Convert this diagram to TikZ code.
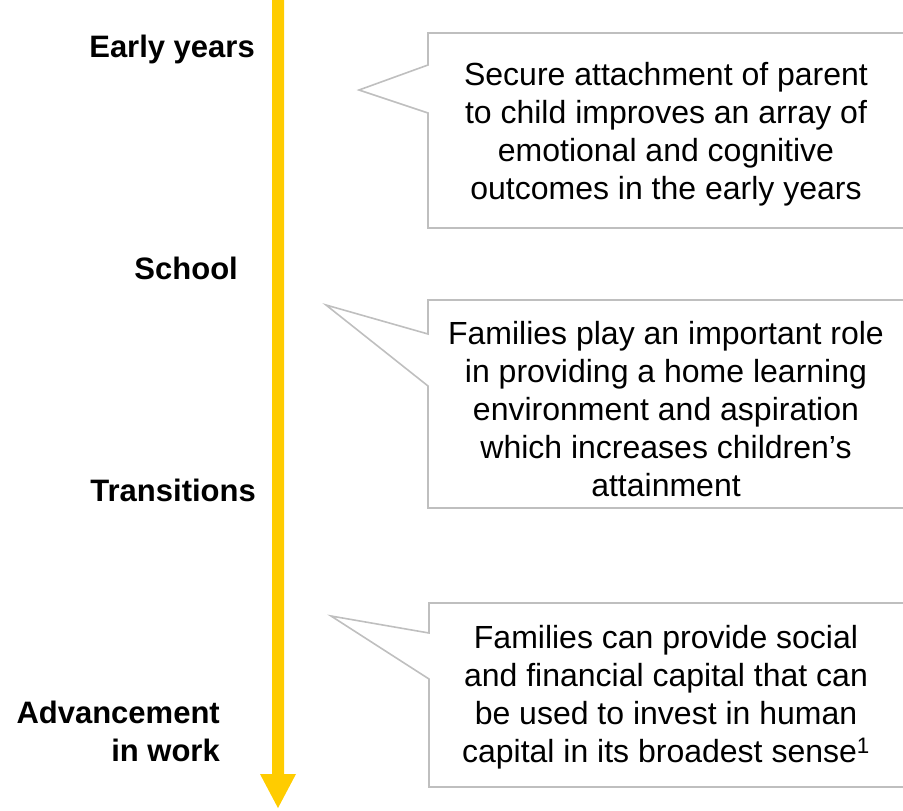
\documentclass[tikz,border=0pt]{standalone}
\usepackage{fontspec}
\setmainfont{Liberation Sans}
\definecolor{arrowyellow}{RGB}{255,204,0}
\definecolor{boxgray}{RGB}{191,191,191}
\begin{document}
\begin{tikzpicture}[x=1pt,y=-1pt,
  callout/.style={draw=boxgray,line width=1.6pt,line join=miter},
  bodytext/.style={align=center,inner sep=0pt,font=\fontsize{32}{38}\selectfont},
  stagelabel/.style={inner sep=0pt,font=\fontsize{31}{38}\selectfont\bfseries}]
\useasboundingbox (0,0) rectangle (903,811);
% timeline arrow
\fill[arrowyellow] (272,0) -- (284,0) -- (284,774) -- (296,774) -- (278,808) -- (260,774) -- (272,774) -- cycle;
% stage labels
\node[stagelabel,anchor=base east] (early) at (255,57) {Early years};
\node[stagelabel,anchor=base east] (school) at (238,279) {School};
\node[stagelabel,anchor=base east] (trans) at (256,501) {Transitions};
\node[stagelabel,anchor=base east] (adv) at (220,723) {Advancement};
\node[stagelabel,anchor=base east] (work) at (220,761) {in work};
% callout 1
\draw[callout] (905,33) -- (428,33) -- (428,65) -- (359,90) -- (428,113) -- (428,228) -- (905,228);
\node[bodytext] (t1) at (666,134) {Secure attachment of parent\\to child improves an array of\\emotional and cognitive\\outcomes in the early years};
% callout 2
\draw[callout] (905,300) -- (428,300) -- (428,334) -- (326,305) -- (428,386) -- (428,508) -- (905,508);
\node[bodytext] (t2) at (666,409) {Families play an important role\\in providing a home learning\\environment and aspiration\\which increases children’s\\attainment};
% callout 3
\draw[callout] (905,603) -- (429,603) -- (429,633) -- (331,616) -- (429,679) -- (429,787) -- (905,787);
\node[bodytext] (t3) at (666,697) {Families can provide social\\and financial capital that can\\be used to invest in human\\capital in its broadest sense\textsuperscript{1}};
\end{tikzpicture}
\end{document}
